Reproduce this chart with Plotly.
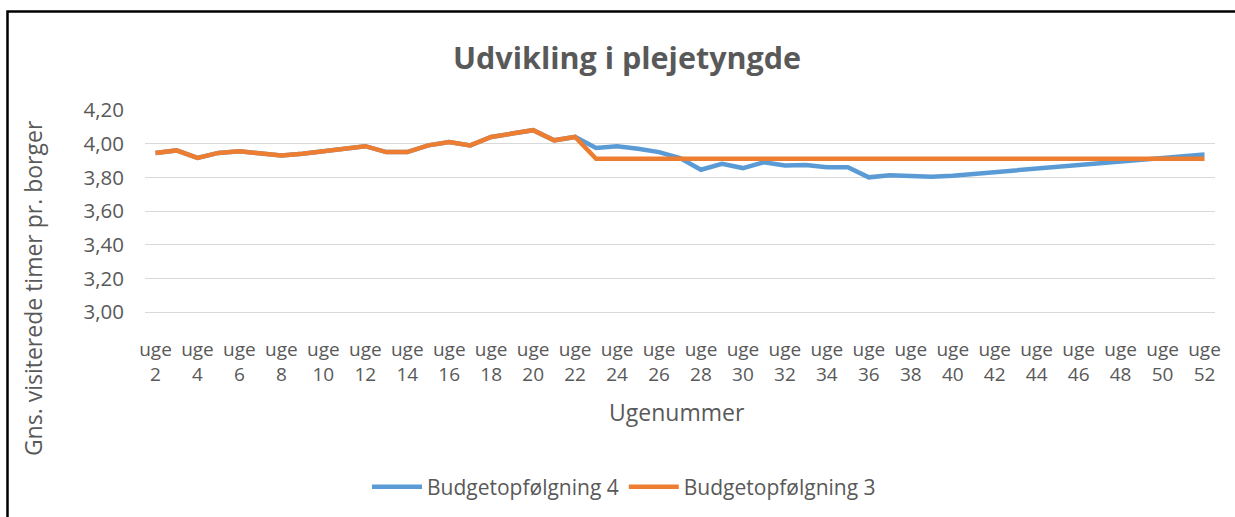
import plotly.graph_objects as go

weeks = [2, 3, 4, 5, 6, 7, 8, 9, 10, 11, 12, 13, 14, 15, 16, 17, 18, 19, 20, 21, 22,
         23, 24, 25, 26, 27, 28, 29, 30, 31, 32, 33, 34, 35, 36, 37, 38, 39, 40, 41,
         42, 43, 44, 45, 46, 47, 48, 49, 50, 51, 52]

budget4 = [3.945, 3.96, 3.915, 3.945, 3.955, 3.945, 3.93, 3.94, 3.953, 3.97, 3.985,
           3.95, 3.95, 3.99, 4.01, 3.99, 4.04, 4.06, 4.08, 4.02, 4.04,
           3.975, 3.985, 3.97, 3.95, 3.915, 3.845, 3.88, 3.855, 3.89, 3.87, 3.873,
           3.86, 3.86, 3.80, 3.813, 3.807, 3.804, 3.81, 3.82, 3.83, 3.84, 3.85,
           3.86, 3.87, 3.88, 3.89, 3.90, 3.91, 3.92, 3.935]

budget3 = [3.945, 3.96, 3.915, 3.945, 3.955, 3.945, 3.93, 3.94, 3.953, 3.97, 3.985,
           3.95, 3.95, 3.99, 4.01, 3.99, 4.04, 4.06, 4.08, 4.02, 4.04,
           3.91, 3.91, 3.91, 3.91, 3.91, 3.91, 3.91, 3.91, 3.91, 3.91, 3.91,
           3.91, 3.91, 3.91, 3.91, 3.91, 3.91, 3.91, 3.91, 3.91, 3.91, 3.91,
           3.91, 3.91, 3.91, 3.91, 3.91, 3.91, 3.91, 3.91]

tick_weeks = [2, 4, 6, 8, 10, 12, 14, 16, 18, 20, 22, 24, 26, 28, 30, 32, 34, 36, 38,
              40, 42, 44, 46, 48, 50, 52]
tick_labels = ["uge<br>%d" % w for w in tick_weeks]
y_ticks = [3.0, 3.2, 3.4, 3.6, 3.8, 4.0, 4.2]

FONT = "Open Sans"
TXT = "#595959"

W, H = 1235, 517
L, R, T, B = 145, 20, 110, 204
pw, ph = W - L - R, H - T - B


def px_x(x):
    return (x - L) / pw


def px_y(y):
    return (H - B - y) / ph


fig = go.Figure()
fig.add_trace(go.Scatter(x=weeks, y=budget4, mode="lines", name="Budgetopfølgning 4",
                         line=dict(color="#5B9BD5", width=4.5)))
fig.add_trace(go.Scatter(x=weeks, y=budget3, mode="lines", name="Budgetopfølgning 3",
                         line=dict(color="#ED7D31", width=4.5)))

fig.update_layout(
    width=W, height=H,
    margin=dict(l=L, r=R, t=T, b=B),
    paper_bgcolor="white", plot_bgcolor="white",
    separators=",.",
    font=dict(family=FONT, color=TXT, size=19),
    showlegend=True,
    legend=dict(orientation="h", x=px_x(624), xanchor="center", y=px_y(487), yanchor="middle",
                font=dict(size=21, color=TXT), itemwidth=50, traceorder="normal"),
    xaxis=dict(range=[1.5, 52.5], tickmode="array", tickvals=tick_weeks, ticktext=tick_labels,
               showgrid=False, zeroline=False, showline=True, linecolor="#D9D9D9", linewidth=1,
               ticks="", tickfont=dict(size=19, color=TXT), ticklabelstandoff=20),
    yaxis=dict(range=[3.0, 4.2], tickmode="array", tickvals=y_ticks, tickformat=".2f",
               showgrid=True, gridcolor="#D9D9D9", gridwidth=1.3, zeroline=False,
               showline=False, ticks="", tickfont=dict(size=20.5, color=TXT),
               ticklabelstandoff=20),
)

fig.add_annotation(text="<b>Udvikling i plejetyngde</b>", xref="paper", yref="paper",
                   x=px_x(627), y=px_y(57), showarrow=False, xanchor="center", yanchor="middle",
                   font=dict(size=30.5, color=TXT, family=FONT))
fig.add_annotation(text="Ugenummer", xref="paper", yref="paper",
                   x=px_x(677), y=px_y(413), showarrow=False, xanchor="center", yanchor="middle",
                   font=dict(size=23, color=TXT, family=FONT))
fig.add_annotation(text="Gns. visiterede timer pr. borger", xref="paper", yref="paper",
                   x=px_x(33), y=px_y(289), showarrow=False, xanchor="center", yanchor="middle",
                   textangle=-90, font=dict(size=23, color=TXT, family=FONT))

fig.add_shape(type="rect", xref="paper", yref="paper",
              x0=px_x(7.5), x1=px_x(1260), y0=px_y(540), y1=px_y(11),
              line=dict(color="black", width=2.5), fillcolor="rgba(0,0,0,0)", layer="above")

fig.write_html("out.html", config={"displayModeBar": False},
               post_script="document.body.style.margin='0';document.body.style.overflow='hidden';")
